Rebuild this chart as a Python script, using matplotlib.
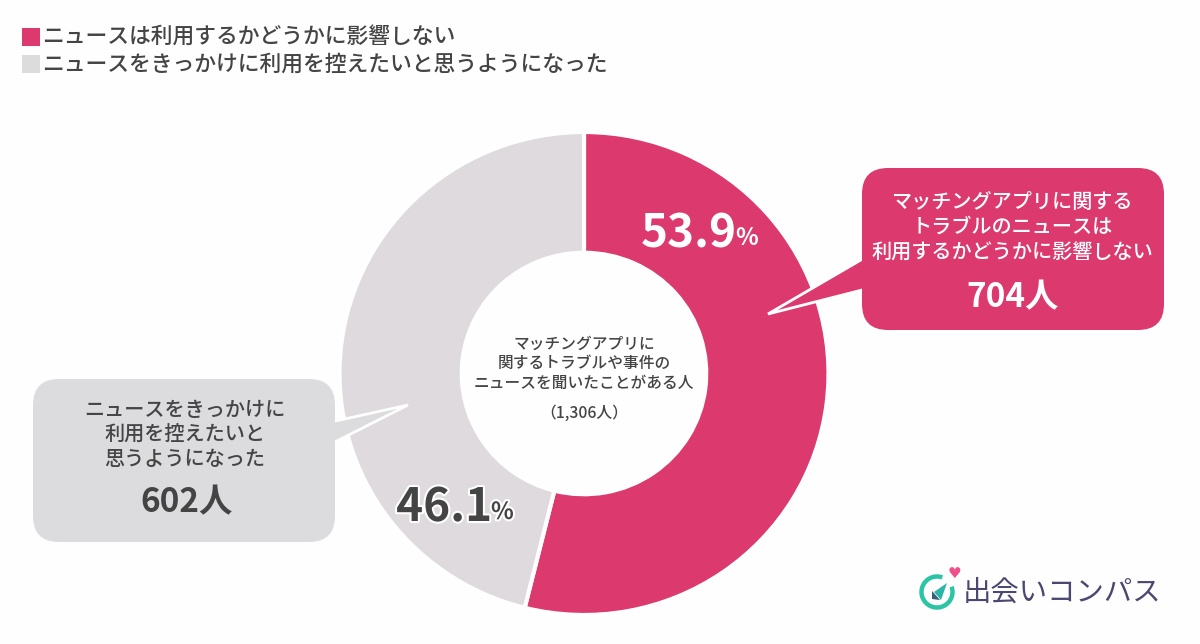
import matplotlib
matplotlib.use('Agg')
import matplotlib.pyplot as plt
import matplotlib.patheffects as pe
from matplotlib.patches import FancyBboxPatch, Polygon, Rectangle, Arc

plt.rcParams['font.family'] = ['Noto Sans CJK JP', 'DejaVu Sans']

labels = ['ニュースは利用するかどうかに影響しない', 'ニュースをきっかけに利用を控えたいと思うようになった']
percent = [53.9, 46.1]
people = [704, 602]
total = 1306
colors = ['#dc3a6e', '#dedadd']
text_dark = '#444444'

W, H = 1200, 644
fig = plt.figure(figsize=(12, 6.44), dpi=100, facecolor='#fefefe')

# overlay in pixel coordinates for the callouts and text
ov = fig.add_axes([0, 0, 1, 1], zorder=2)
ov.set_xlim(0, W)
ov.set_ylim(H, 0)
ov.axis('off')
ov.patch.set_alpha(0)

# donut, very slightly wider than tall like the source image
cx, cy, rx, ry = 584, 373.5, 244.5, 241.5
pie_ax = fig.add_axes([(cx - rx) / W, 1 - (cy + ry) / H, 2 * rx / W, 2 * ry / H], zorder=1)
pie_ax.pie(percent, colors=colors, startangle=90, counterclock=False, radius=1,
           wedgeprops={'width': 0.5, 'edgecolor': 'white', 'linewidth': 3})
pie_ax.set_aspect('auto')
pie_ax.set_xlim(-1, 1)
pie_ax.set_ylim(-1, 1)

# legend
for i, y in enumerate([36.5, 63.5]):
    ov.add_patch(Rectangle((22, y - 8.5), 17.5, 17.5, fc=colors[i] if i == 0 else '#dcdcde', ec='none'))
    ov.text(42, y + 1.5, labels[i], fontsize=15.7, fontweight='medium', color=text_dark, va='center', ha='left')


def bubble(x0, y0, x1, y1, tail, color):
    # white outline under the tail so it separates from the ring
    ov.add_patch(Polygon(tail, closed=True, fc=color, ec='white', lw=2, joinstyle='miter', zorder=3))
    ov.add_patch(FancyBboxPatch((x0 + 26, y0 + 26), x1 - x0 - 52, y1 - y0 - 52,
                                boxstyle='round,pad=26,rounding_size=26', fc=color, ec='none', zorder=4))


bubble(862, 168, 1164, 330, [(866, 257), (768, 314), (866, 289)], colors[0])
bubble(33, 379, 335, 542, [(331, 422), (408, 405), (331, 444)], '#dcdbdd')

for y, s in zip([202.5, 227.5, 253], ['マッチングアプリに関する', 'トラブルのニュースは', '利用するかどうかに影響しない']):
    ov.text(1012, y, s, fontsize=14.5, fontweight='medium', color='white', ha='center', va='center', zorder=5)
ov.text(1013, 298, f'{people[0]}人', fontsize=24, fontweight='bold', color='white', ha='center', va='center', zorder=5)

for y, s in zip([410, 435, 459], ['ニュースをきっかけに', '利用を控えたいと', '思うようになった']):
    ov.text(185, y, s, fontsize=14.5, fontweight='medium', color=text_dark, ha='center', va='center', zorder=5)
ov.text(187, 503, f'{people[1]}人', fontsize=24, fontweight='bold', color=text_dark, ha='center', va='center', zorder=5)

# percentage labels
ov.text(737, 234, f'{percent[0]}', fontsize=33, fontweight='bold', color='white', ha='right', va='center', zorder=5)
ov.text(735, 238, '%', fontsize=17, fontweight='bold', color='white', ha='left', va='center', zorder=5)
stroke = [pe.withStroke(linewidth=3, foreground='white')]
ov.text(492, 508, f'{percent[1]}', fontsize=33, fontweight='bold', color=text_dark, ha='right', va='center',
        zorder=5, path_effects=stroke)
ov.text(491, 512, '%', fontsize=17, fontweight='bold', color=text_dark, ha='left', va='center',
        zorder=5, path_effects=stroke)

# centre text
for y, s in zip([344.5, 363.5, 383.5], ['マッチングアプリに', '関するトラブルや事件の', 'ニュースを聞いたことがある人']):
    ov.text(584, y, s, fontsize=11.3, fontweight='medium', color=text_dark, ha='center', va='center')
ov.text(584, 413, f'（{total:,}人）', fontsize=11.3, fontweight='medium', color=text_dark, ha='center', va='center')

# logo
ov.add_patch(Arc((937, 592), 31, 31, theta1=-20, theta2=290, ec='#2bc4a4', lw=3.2, zorder=5))
ov.add_patch(Polygon([(947, 583), (941, 600), (934, 592)], fc='#2bb5a8', ec='none', zorder=5))
ov.add_patch(Polygon([(932, 591), (940, 600), (932, 599)], fc='#35607c', ec='none', zorder=5))
ov.text(954, 574, '♥', fontsize=11, color='#f0508c', ha='center', va='center', family='DejaVu Sans', zorder=5)
ov.text(1062, 593, '出会いコンパス', fontsize=20.4, color='#4a4870', ha='center', va='center', zorder=5)

fig.savefig('out.png', dpi=100, facecolor=fig.get_facecolor())
